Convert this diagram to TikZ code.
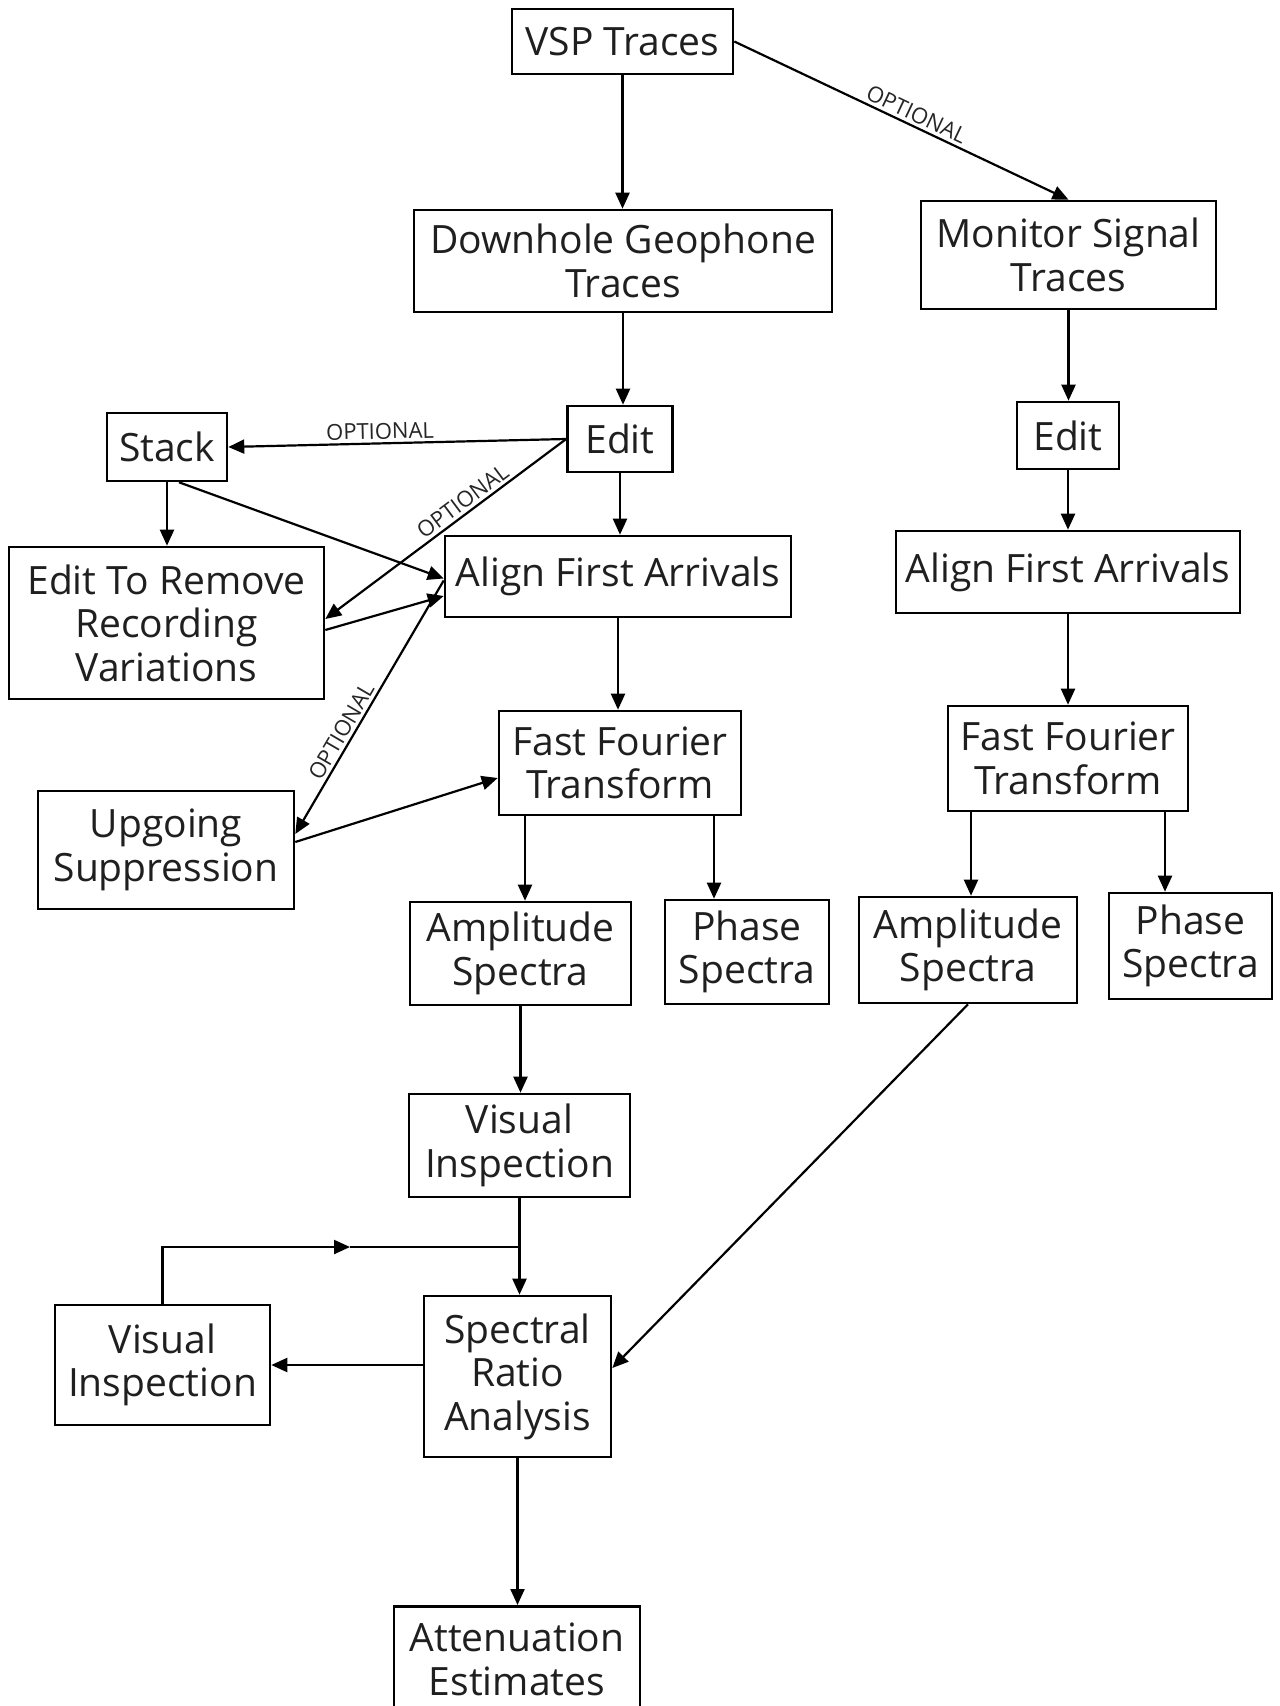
\documentclass[tikz,border=0pt]{standalone}
\usepackage{fontspec}
\setmainfont{Open Sans}
\usetikzlibrary{arrows.meta}
\newcommand{\mainfs}{\fontsize{19.5}{21.8}\selectfont}
\newcommand{\optfs}{\fontsize{11}{12}\selectfont}
\begin{document}
\begin{tikzpicture}[x=0.5pt,y=-0.5pt,
  box/.style={draw, line width=1.3pt, inner sep=0pt, align=center, font=\mainfs, text=black!88},
  arr/.style={line width=1.1pt, -{Triangle[length=8pt,width=7pt]}},
  plain/.style={line width=1.1pt},
  opt/.style={font=\optfs, sloped, above, inner sep=1.5pt, text=black!85}]
\useasboundingbox (0,0) rectangle (1279,1706);
\clip (0,0) rectangle (1279,1706);
\fill[white] (0,0) rectangle (1279,1706);

\node[box, minimum width=110.5pt, minimum height=32.5pt] (vsp) at (622.5,41.5) {VSP Traces};
\node[box, minimum width=209pt, minimum height=51pt] (down) at (623,261) {Downhole Geophone\\Traces};
\node[box, minimum width=147.5pt, minimum height=54pt] (mon) at (1068.5,255) {Monitor Signal\\Traces};
\node[box, minimum width=52.5pt, minimum height=33pt] (editL) at (620,439) {Edit};
\node[box, minimum width=51pt, minimum height=33.5pt] (editR) at (1068,435.5) {Edit};
\node[box, minimum width=60pt, minimum height=34pt] (stack) at (167,447) {Stack};
\node[box, minimum width=173pt, minimum height=40.5pt] (alignL) at (618,576.5) {Align First Arrivals};
\node[box, minimum width=172pt, minimum height=41pt] (alignR) at (1068,572) {Align First Arrivals};
\node[box, minimum width=157.5pt, minimum height=76pt] (rem) at (166.5,623) {Edit To Remove\\Recording\\Variations};
\node[box, minimum width=121pt, minimum height=52pt] (fftL) at (620,763) {Fast Fourier\\Transform};
\node[box, minimum width=120pt, minimum height=52.5pt] (fftR) at (1068,758.5) {Fast Fourier\\Transform};
\node[box, minimum width=128pt, minimum height=59pt] (up) at (166,850) {Upgoing\\Suppression};
\node[box, minimum width=110.5pt, minimum height=51.5pt] (ampL) at (520.5,953.5) {Amplitude\\Spectra};
\node[box, minimum width=82pt, minimum height=52pt] (phL) at (747,952) {Phase\\Spectra};
\node[box, minimum width=109pt, minimum height=53pt] (ampR) at (968,950) {Amplitude\\Spectra};
\node[box, minimum width=81.5pt, minimum height=53pt] (phR) at (1190.5,946) {Phase\\Spectra};
\node[box, minimum width=110.5pt, minimum height=51.5pt] (visC) at (519.5,1145.5) {Visual\\Inspection};
\node[box, minimum width=107.5pt, minimum height=60pt] (visL) at (162.5,1365) {Visual\\Inspection};
\node[box, minimum width=93.5pt, minimum height=80.5pt] (spec) at (517.5,1376.5) {Spectral\\Ratio\\Analysis};
\node[box, minimum width=123pt, minimum height=53pt, anchor=north] (att) at (517,1605) {Attenuation\\Estimates};

\coordinate (jy) at (0,1247);
\coordinate (mid) at (350,1247);
\coordinate (jn) at (visC.south |- jy);

% main spine
\draw[arr] (vsp.south) -- (vsp.south |- down.north);
\draw[arr] (down.south) -- (down.south |- editL.north);
\draw[arr] (editL.south) -- (editL.south |- alignL.north);
\draw[arr] (alignL.south) -- (alignL.south |- fftL.north);
\draw[arr] ([xshift=-47.5pt]fftL.south) -- ([xshift=-47.5pt]fftL.south |- ampL.north);
\draw[arr] ([xshift=47pt]fftL.south) -- ([xshift=47pt]fftL.south |- phL.north);
\draw[arr] (ampL.south) -- (ampL.south |- visC.north);
\draw[arr] (visC.south) -- (visC.south |- spec.north);
\draw[arr] (spec.south) -- (spec.south |- att.north);

% optional branches
\draw[arr] (vsp.east) -- (mon.north) node[opt, pos=0.53] {OPTIONAL};
\draw[arr] (editL.west) -- (stack.east) node[opt, pos=0.55] {OPTIONAL};
\draw[arr] (editL.west) -- ([yshift=2pt]rem.east) node[opt, pos=0.4] {OPTIONAL};
\draw[arr] (stack.south) -- (stack.south |- rem.north);
\draw[arr] ([xshift=6pt]stack.south) -- ([yshift=-1pt]alignL.west);
\draw[arr] ([yshift=-3.5pt]rem.east) -- ([yshift=-9.75pt]alignL.west);
\draw[arr] ([yshift=-2pt]alignL.west) -- ([yshift=8pt]up.east) node[opt, pos=0.62] {OPTIONAL};
\draw[arr] ([yshift=4pt]up.east) -- ([yshift=-7.5pt]fftL.west);

% right column
\draw[arr] (mon.south) -- (mon.south |- editR.north);
\draw[arr] (editR.south) -- (editR.south |- alignR.north);
\draw[arr] (alignR.south) -- (alignR.south |- fftR.north);
\draw[arr] ([xshift=-48.5pt]fftR.south) -- ([xshift=-48.5pt]fftR.south |- ampR.north);
\draw[arr] ([xshift=48.5pt]fftR.south) -- ([xshift=48.5pt]fftR.south |- phR.north);
\draw[arr] (ampR.south) -- ([yshift=4.25pt]spec.east);

% spectral ratio loop
\draw[arr] (spec.west |- visL.east) -- (visL.east);
\draw[arr] (visL.north) |- (mid);
\draw[plain] (mid) -- (jn);
\end{tikzpicture}
\end{document}
